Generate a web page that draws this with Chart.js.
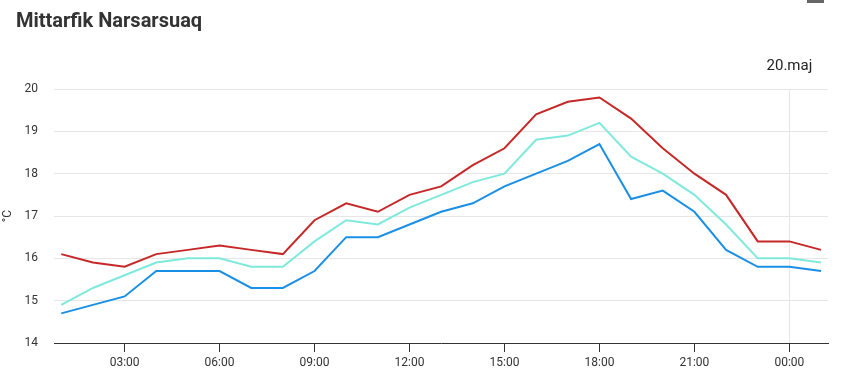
<!DOCTYPE html>
<html>
<head>
<meta charset="utf-8">
<script src="https://cdn.jsdelivr.net/npm/chart.js@4/dist/chart.umd.min.js"></script>
<style>
  html, body { margin: 0; padding: 0; background: #fff; }
  #wrap { position: relative; width: 850px; height: 378px; }
  #menuBar { position: absolute; left: 807px; top: 0; width: 17px; height: 3px; background: #666; }
</style>
</head>
<body>
<div id="wrap">
  <canvas id="tempChart" width="850" height="378"></canvas>
  <div id="menuBar"></div>
</div>
<script>
"use strict";

// ----------------------------
// Data (hours since 00:00 on 19. maj)
// ----------------------------
const hours = [1, 2, 3, 4, 5, 6, 7, 8, 9, 10, 11, 12, 13, 14, 15, 16, 17, 18, 19, 20, 21, 22, 23, 24, 25];

const redSeries = [16.1, 15.9, 15.8, 16.1, 16.2, 16.3, 16.2, 16.1, 16.9, 17.3, 17.1, 17.5, 17.7,
                   18.2, 18.6, 19.4, 19.7, 19.8, 19.3, 18.6, 18.0, 17.5, 16.4, 16.4, 16.2];
const cyanSeries = [14.9, 15.3, 15.6, 15.9, 16.0, 16.0, 15.8, 15.8, 16.4, 16.9, 16.8, 17.2, 17.5,
                    17.8, 18.0, 18.8, 18.9, 19.2, 18.4, 18.0, 17.5, 16.8, 16.0, 16.0, 15.9];
const blueSeries = [14.7, 14.9, 15.1, 15.7, 15.7, 15.7, 15.3, 15.3, 15.7, 16.5, 16.5, 16.8, 17.1,
                    17.3, 17.7, 18.0, 18.3, 18.7, 17.4, 17.6, 17.1, 16.2, 15.8, 15.8, 15.7];

const xTickHours = [3, 6, 9, 12, 15, 18, 21, 24];
const yTicks = [14, 15, 16, 17, 18, 19, 20];

const chartTitle = "Mittarfik Narsarsuaq";
const dayLabel = "20.maj";
const dayHour = 24;
const unitLabel = "°C";

const FONT = "Roboto, 'Noto Sans', sans-serif";

function toPoints(values) {
  return values.map((v, i) => ({ x: hours[i], y: v }));
}

function formatHour(h) {
  const hh = h % 24;
  return (hh < 10 ? "0" + hh : "" + hh) + ":00";
}

// ----------------------------
// Extra texts: title, day label, unit
// ----------------------------
const textPlugin = {
  id: "textPlugin",
  afterDraw(chart) {
    const ctx = chart.ctx;
    const xs = chart.scales.x;
    const area = chart.chartArea;
    ctx.save();

    ctx.fillStyle = "#333";
    ctx.font = "bold 20px " + FONT;
    ctx.textAlign = "left";
    ctx.textBaseline = "alphabetic";
    ctx.fillText(chartTitle, 16, 27);

    ctx.fillStyle = "#222";
    ctx.font = "15px " + FONT;
    ctx.textAlign = "center";
    ctx.fillText(dayLabel, xs.getPixelForValue(dayHour), 70);

    ctx.fillStyle = "#333";
    ctx.font = "12px " + FONT;
    ctx.translate(8, (area.top + area.bottom) / 2);
    ctx.rotate(-Math.PI / 2);
    ctx.textAlign = "center";
    ctx.textBaseline = "middle";
    ctx.fillText(unitLabel, 0, 0);

    ctx.restore();
  }
};

// ----------------------------
// Chart
// ----------------------------
const ctx = document.getElementById("tempChart").getContext("2d");

new Chart(ctx, {
  type: "line",
  data: {
    datasets: [
      { label: "Max", data: toPoints(redSeries), borderColor: "#c62828", borderWidth: 2, pointRadius: 0, tension: 0 },
      { label: "Mid", data: toPoints(cyanSeries), borderColor: "#7fe9dc", borderWidth: 2, pointRadius: 0, tension: 0 },
      { label: "Min", data: toPoints(blueSeries), borderColor: "#1a8fe6", borderWidth: 2, pointRadius: 0, tension: 0 }
    ]
  },
  plugins: [textPlugin],
  options: {
    responsive: false,
    animation: false,
    layout: { padding: { top: 89, right: 22, bottom: 0, left: 0 } },
    plugins: {
      legend: { display: false },
      tooltip: { enabled: false }
    },
    scales: {
      x: {
        type: "linear",
        min: 0.77,
        max: 25.22,
        afterBuildTicks: scale => { scale.ticks = xTickHours.map(v => ({ value: v })); },
        afterFit: scale => { scale.height = 35; },
        border: { display: true, color: "#333", width: 1 },
        grid: {
          color: c => (c.tick && c.tick.value === dayHour ? "#e6e6e6" : "rgba(0,0,0,0)"),
          tickColor: "#333",
          tickLength: 9,
          lineWidth: 1
        },
        ticks: {
          autoSkip: false,
          maxRotation: 0,
          padding: 4,
          color: "#333",
          font: { family: FONT, size: 12 },
          callback: v => formatHour(v)
        }
      },
      y: {
        min: 14,
        max: 20,
        afterBuildTicks: scale => { scale.ticks = yTicks.map(v => ({ value: v })); },
        afterFit: scale => { scale.width = 54; },
        border: { display: false },
        grid: { color: "#e6e6e6", drawTicks: false, lineWidth: 1 },
        ticks: {
          padding: 16,
          color: "#333",
          font: { family: FONT, size: 12 }
        }
      }
    }
  }
});
</script>
</body>
</html>
